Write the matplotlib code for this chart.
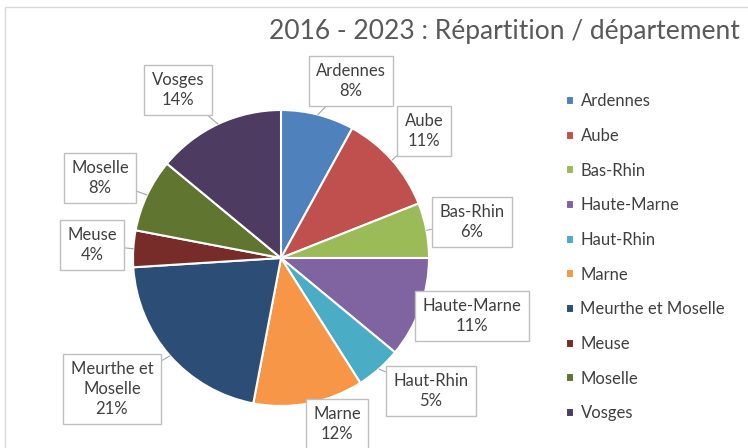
import numpy as np
import matplotlib
matplotlib.use("Agg")
import matplotlib.pyplot as plt
from matplotlib.patches import Rectangle

departements = ["Ardennes", "Aube", "Bas-Rhin", "Haute-Marne", "Haut-Rhin",
                "Marne", "Meurthe et Moselle", "Meuse", "Moselle", "Vosges"]
parts = [8, 11, 6, 11, 5, 12, 21, 4, 8, 14]
couleurs = ["#4F81BD", "#C0504D", "#9BBB59", "#8064A2", "#4BACC6",
            "#F79646", "#2C4D75", "#772C2A", "#5F7530", "#4D3B62"]
etiquettes = ["Ardennes", "Aube", "Bas-Rhin", "Haute-Marne", "Haut-Rhin",
              "Marne", "Meurthe et\nMoselle", "Meuse", "Moselle", "Vosges"]
titre = "2016 - 2023 : Répartition / département"

# position des boites d'etiquettes (pixels image, y vers le bas)
pos_etiq = [(351, 81), (424, 131), (472, 222), (472, 316), (431, 391),
            (337, 424), (112, 389), (92, 245), (100, 178), (178, 90)]

plt.rcParams['font.family'] = ['Lato', 'DejaVu Sans']

W, H = 748, 448
fig = plt.figure(figsize=(W / 100, H / 100), dpi=100)
ax = fig.add_axes([0, 0, 1, 1])

# cadre du graphique
ax.add_patch(Rectangle((5, -10), W + 20, H - 7 + 10, fill=False,
                       edgecolor="#D9D9D9", linewidth=1))

cx, cy, r = 281, H - 258, 148
wedges, _ = ax.pie(parts, colors=couleurs, startangle=90, counterclock=False,
                   center=(cx, cy), radius=r, frame=True,
                   wedgeprops=dict(edgecolor="white", linewidth=1.5))
ax.set_xlim(0, W)
ax.set_ylim(0, H)
ax.axis('off')

for w, lab, val, (px, py) in zip(wedges, etiquettes, parts, pos_etiq):
    ang = np.deg2rad((w.theta1 + w.theta2) / 2)
    xy = (cx + r * np.cos(ang), cy + r * np.sin(ang))
    ax.annotate(f"{lab}\n{val}%", xy=xy, xytext=(px, H - py),
                ha="center", va="center", fontsize=12, color="#404040",
                linespacing=1.3,
                bbox=dict(boxstyle="square,pad=0.45", fc="white",
                          ec="#BFBFBF", lw=1),
                arrowprops=dict(arrowstyle="-", color="#A6A6A6", lw=0.8,
                                shrinkA=0, shrinkB=0))

leg = ax.legend(wedges, departements, loc="upper left",
                bbox_to_anchor=(558 / W, 1 - 85 / H), frameon=False,
                fontsize=12, handlelength=0.45, handleheight=0.45,
                handletextpad=0.4, labelspacing=1.12, borderpad=0)
for t in leg.get_texts():
    t.set_color("#404040")

ax.text(740, H - 31, titre, ha="right", va="center", fontsize=19,
        color="#595959")

fig.savefig("out.png", dpi=100)
